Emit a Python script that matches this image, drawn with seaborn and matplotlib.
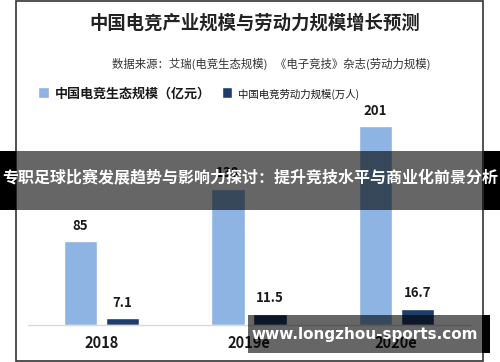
import matplotlib
matplotlib.use("Agg")
import matplotlib.pyplot as plt
import matplotlib.patches as patches
import pandas as pd
import seaborn as sns

# ==========================================
# data
# ==========================================
years = ["2018", "2019e", "2020e"]
eco_scale = [85, 138, 201]          # 中国电竞生态规模（亿元）
labor_scale = [7.1, 11.5, 16.7]     # 中国电竞劳动力规模(万人)
series_names = ["中国电竞生态规模（亿元）", "中国电竞劳动力规模(万人)"]
eco_labels = ["85", "138", "201"]
labor_labels = ["7.1", "11.5", "16.7"]

df = pd.DataFrame({
    "year": years * 2,
    "value": eco_scale + labor_scale,
    "series": [series_names[0]] * 3 + [series_names[1]] * 3,
})

sns.set_theme(style="white")
plt.rcParams["font.family"] = ["Noto Sans CJK SC", "DejaVu Sans"]

W, H = 500, 362
fig = plt.figure(figsize=(W / 100, H / 100), dpi=100)
fig.patch.set_facecolor("white")


def fx(px):
    return px / W


def fy(py):
    return 1 - py / H


# axes: baseline at y=325, x from 28 to 470
ax = fig.add_axes([fx(28), fy(325), fx(470) - fx(28), (325 - 78) / H])
sns.barplot(data=df, x="year", y="value", hue="series",
            palette=["#8EB4E3", "#1F3D6B"], width=0.57, gap=0.21,
            saturation=1, ax=ax, legend=False)
ax.set_xlim(-0.5, 2.5)
ax.set_ylim(0, 250)
ax.set_xlabel("")
ax.set_ylabel("")
ax.set_yticks([])
for s in ["top", "left", "right"]:
    ax.spines[s].set_visible(False)
ax.spines["bottom"].set_color("#d9d9d9")
ax.spines["bottom"].set_linewidth(1.0)
ax.tick_params(axis="x", length=0, pad=7)
for t in ax.get_xticklabels():
    t.set_fontsize(10.5)
    t.set_fontweight("bold")
    t.set_color("#1a1a1a")

ax.bar_label(ax.containers[0], labels=eco_labels, padding=6,
             fontsize=9.5, fontweight="bold", color="#1a1a1a")
ax.bar_label(ax.containers[1], labels=labor_labels, padding=6,
             fontsize=9.5, fontweight="bold", color="#1a1a1a")

# legend
leg = ax.legend(handles=list(ax.containers[0][:1]) + list(ax.containers[1][:1]),
                labels=series_names, ncol=2, frameon=False,
                loc="center left", bbox_to_anchor=(fx(32), fy(94)),
                bbox_transform=fig.transFigure,
                handlelength=0.7, handleheight=0.7, handletextpad=0.4,
                columnspacing=0.7, borderaxespad=0)
txts = leg.get_texts()
txts[0].set_fontsize(9.4)
txts[0].set_fontweight("bold")
txts[1].set_fontsize(7.5)
for t in txts:
    t.set_color("#1a1a1a")

# titles
fig.text(fx(255), fy(23), "中国电竞产业规模与劳动力规模增长预测",
         ha="center", va="center", fontsize=13.2, fontweight="bold", color="#222222")
fig.text(fx(271), fy(64), "数据来源：艾瑞(电竞生态规模)   《电子竞技》杂志(劳动力规模)",
         ha="center", va="center", fontsize=8.2, color="#333333")

# frame
fig.patches.append(patches.Rectangle((fx(16), fy(361)), fx(483) - fx(16), (361 - 1) / H,
                                     transform=fig.transFigure, fill=False,
                                     edgecolor="#333333", linewidth=1.2, zorder=5))

# banner overlay
fig.patches.append(patches.Rectangle((0, fy(210)), 1, (210 - 151) / H,
                                     transform=fig.transFigure, facecolor="black",
                                     alpha=0.6, edgecolor="none", zorder=10))
for x0, x1 in [(0, 16), (484, 500)]:
    fig.patches.append(patches.Rectangle((fx(x0), fy(210)), fx(x1) - fx(x0), (210 - 151) / H,
                                         transform=fig.transFigure, facecolor="black",
                                         edgecolor="none", zorder=11))
fig.text(0.5, fy(177), "专职足球比赛发展趋势与影响力探讨：提升竞技水平与商业化前景分析",
         ha="center", va="center", fontsize=11.5, fontweight="bold",
         color="white", zorder=12)

# watermark
fig.patches.append(patches.Rectangle((fx(248), fy(353)), fx(482) - fx(248), (353 - 315) / H,
                                     transform=fig.transFigure, facecolor="black",
                                     alpha=0.6, edgecolor="none", zorder=10))
fig.patches.append(patches.Rectangle((fx(482), fy(353)), fx(490) - fx(482), (353 - 315) / H,
                                     transform=fig.transFigure, facecolor="black",
                                     edgecolor="none", zorder=11))
fig.text(fx(365), fy(334), "www.longzhou-sports.com", ha="center", va="center",
         fontsize=11, fontweight="bold", color="white", family="DejaVu Sans", zorder=12)

fig.savefig("out.png", dpi=100)
